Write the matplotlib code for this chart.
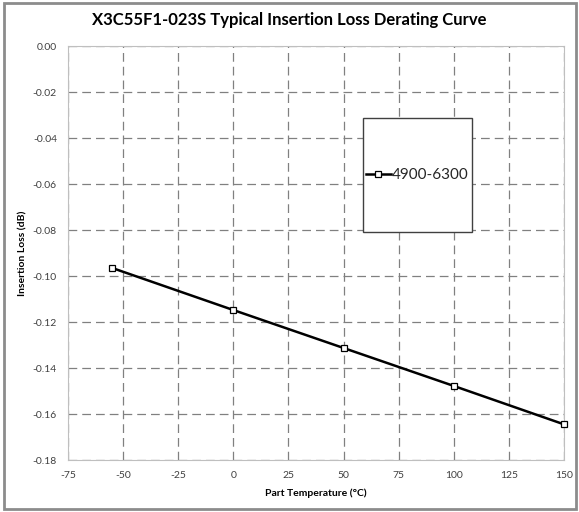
import matplotlib.pyplot as plt
from matplotlib.patches import Rectangle

temps = [-55, 0, 50, 100, 150]
loss = [-0.0965, -0.1148, -0.1313, -0.1478, -0.1645]
series_name = '4900-6300'
xticks = [-75, -50, -25, 0, 25, 50, 75, 100, 125, 150]
yticks = [0.00, -0.02, -0.04, -0.06, -0.08, -0.10, -0.12, -0.14, -0.16, -0.18]

plt.rcParams['font.family'] = ['Lato', 'DejaVu Sans']
plt.rcParams['axes.unicode_minus'] = False

fig = plt.figure(figsize=(5.79, 5.12), dpi=100)
W, H = 579, 512

# outer chart border
fig.patches.append(Rectangle((4 / W, 3 / H), 572 / W, 506 / H, transform=fig.transFigure,
                             fill=False, edgecolor='#8c8c8c', linewidth=2))

ax = fig.add_axes([68 / W, (H - 460) / H, (564 - 68) / W, (460 - 46) / H])
ax.plot(temps, loss, color='black', linewidth=1.8, marker='s', markersize=5,
        markerfacecolor='white', markeredgecolor='black', markeredgewidth=0.9,
        label=series_name, clip_on=False, zorder=3)

ax.set_xlim(-75, 150)
ax.set_ylim(-0.18, 0.0)
ax.set_xticks(xticks)
ax.set_yticks(yticks)
ax.set_yticklabels([f'{v:.2f}' for v in yticks])
ax.tick_params(length=0, labelsize=7.5, colors='#404040', pad=8)
ax.grid(True, linestyle=(0, (7, 4)), color='#808080', linewidth=0.9)
for s in ax.spines.values():
    s.set_color('#bfbfbf')

ax.set_xlabel('Part Temperature (°C)', fontsize=7.5, fontweight='bold', labelpad=6)
ax.set_ylabel('Insertion Loss (dB)', fontsize=7.5, fontweight='bold', labelpad=4)
fig.text(0.5, 1 - 20 / H, 'X3C55F1-023S Typical Insertion Loss Derating Curve',
         ha='center', va='center', fontsize=12, fontweight='bold')

# legend box
box = Rectangle((363 / W, (H - 232) / H), (472 - 363) / W, (232 - 118) / H,
                transform=fig.transFigure, facecolor='white', edgecolor='#404040',
                linewidth=1.0, zorder=5)
fig.patches.append(box)
leg = fig.legend(loc='center', bbox_to_anchor=(417.5 / W, 1 - 175 / H), frameon=False,
                 fontsize=11, handlelength=1.6, handletextpad=0.1)
leg.set_zorder(6)
for t in leg.get_texts():
    t.set_color('#262626')

fig.savefig('out.png', dpi=100)
